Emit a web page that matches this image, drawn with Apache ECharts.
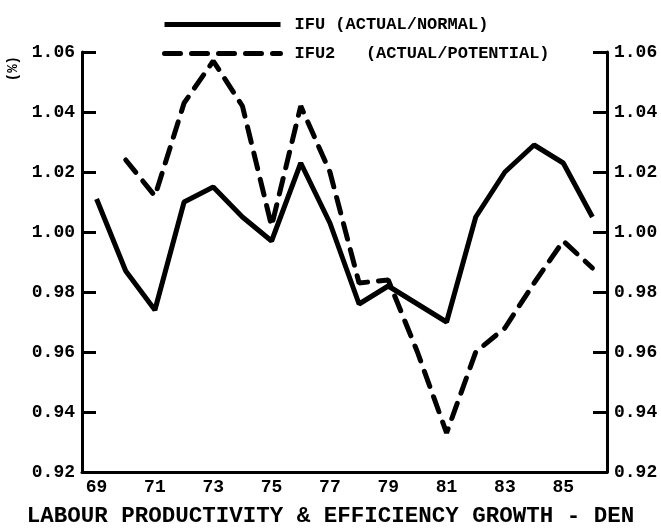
<!DOCTYPE html>
<html>
<head>
<meta charset="utf-8">
<script src="https://cdn.jsdelivr.net/npm/echarts@6/dist/echarts.min.js"></script>
<style>
  html, body { margin: 0; padding: 0; background: #fff; }
  #chart { width: 661px; height: 532px; }
</style>
</head>
<body>
<div id="chart"></div>
<script>
// years on the bottom axis (19xx)
var years = ['69', '70', '71', '72', '73', '74', '75', '76', '77', '78', '79', '80', '81', '82', '83', '84', '85', '86'];
// IFU (actual/normal)
var ifu = [1.011, 0.987, 0.974, 1.010, 1.015, 1.005, 0.997, 1.023, 1.003, 0.976, 0.982, 0.976, 0.970, 1.005, 1.020, 1.029, 1.023, 1.005];
// IFU2 (actual/potential), starts in 70
var ifu2 = [null, 1.024, 1.012, 1.043, 1.057, 1.042, 1.002, 1.042, 1.020, 0.983, 0.984, 0.960, 0.933, 0.960, 0.968, 0.983, 0.997, 0.988];
var yMin = 0.92, yMax = 1.06, yStep = 0.02;

var font = 'Liberation Mono';
var ink = '#000';

function valueAxis(pos) {
  return {
    type: 'value',
    position: pos,
    min: yMin,
    max: yMax,
    interval: yStep,
    axisLine: { show: true, lineStyle: { color: ink, width: 3 } },
    axisTick: { show: true, inside: true, length: 14, lineStyle: { color: ink, width: 3 } },
    splitLine: { show: false },
    axisLabel: {
      color: ink,
      fontFamily: font,
      fontWeight: 'bold',
      fontSize: 18,
      margin: 7,
      padding: [0, 0, 12, 0],
      formatter: function (v) { return v.toFixed(2); }
    }
  };
}

var myChart = echarts.init(document.getElementById('chart'));
myChart.setOption({
  animation: false,
  backgroundColor: '#fff',
  grid: { left: 82, right: 54, top: 52, bottom: 60 },
  legend: {
    orient: 'vertical',
    left: 157,
    top: 11,
    itemWidth: 116,
    itemHeight: 14,
    itemGap: 12,
    selectedMode: false,
    itemStyle: { opacity: 0 },
    lineStyle: { width: 5 },
    textStyle: {
      color: ink,
      fontFamily: font,
      fontWeight: 'bold',
      fontSize: 17,
      lineHeight: 14,
      padding: [0, 0, 0, 9]
    },
    data: ['IFU (ACTUAL/NORMAL)', 'IFU2   (ACTUAL/POTENTIAL)']
  },
  xAxis: {
    type: 'category',
    data: years,
    boundaryGap: true,
    axisLine: { lineStyle: { color: ink, width: 3 } },
    axisTick: { interval: 0, inside: true, length: 13, lineStyle: { color: ink, width: 3 } },
    axisLabel: {
      interval: 1,
      color: ink,
      fontFamily: font,
      fontWeight: 'bold',
      fontSize: 18,
      margin: 6
    }
  },
  yAxis: [valueAxis('left'), valueAxis('right')],
  graphic: [
    {
      type: 'text',
      left: 6,
      top: 56,
      rotation: Math.PI / 2,
      style: { text: '(%)', fill: ink, font: 'bold 14px "Liberation Mono"' }
    },
    {
      type: 'text',
      left: 'center',
      top: 505,
      style: {
        text: 'LABOUR PRODUCTIVITY & EFFICIENCY GROWTH - DEN',
        fill: ink,
        font: 'bold 22.5px "Liberation Mono"'
      }
    }
  ],
  series: [
    {
      name: 'IFU (ACTUAL/NORMAL)',
      type: 'line',
      data: ifu,
      symbol: 'none',
      lineStyle: { color: ink, width: 5 },
      itemStyle: { color: ink }
    },
    {
      name: 'IFU2   (ACTUAL/POTENTIAL)',
      type: 'line',
      data: ifu2,
      symbol: 'none',
      lineStyle: { color: ink, width: 5, type: [16, 11], cap: 'round' },
      itemStyle: { color: ink }
    }
  ]
});
</script>
</body>
</html>
